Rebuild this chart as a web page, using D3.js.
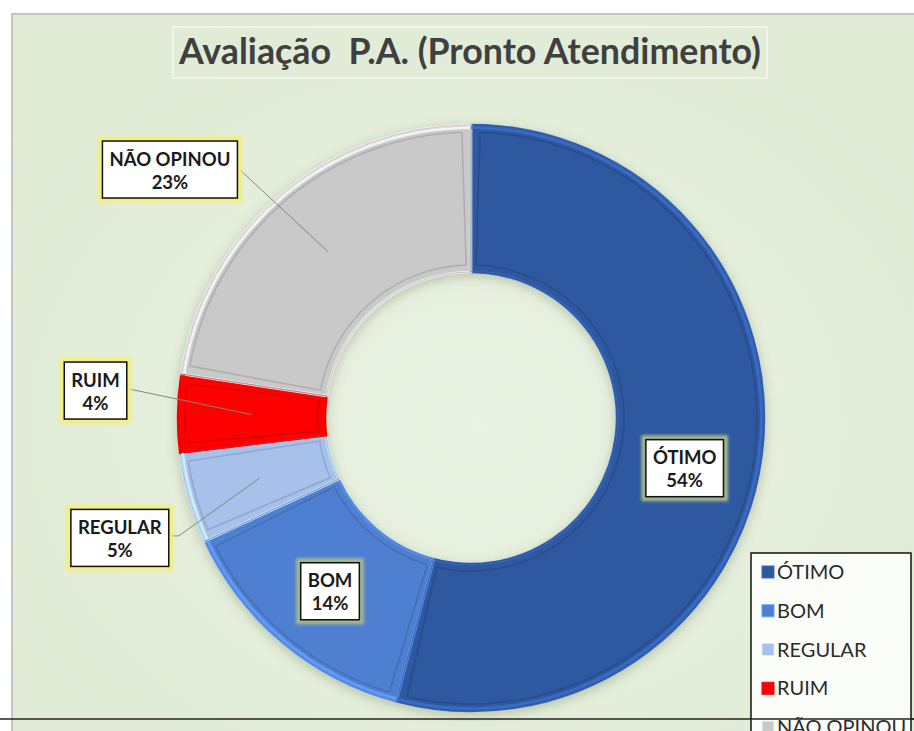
<!DOCTYPE html>
<meta charset="utf-8">
<style>
body { margin: 0; background: #fff; font-family: Lato, "Open Sans", sans-serif; }
svg { display: block; }
.title { font-weight: bold; fill: #404040; white-space: pre; }
.lbl { font-weight: bold; fill: #1a1a1a; font-size: 18.5px; }
.leg { fill: #2b2b2b; font-size: 20px; }
</style>
<body>
<script src="https://d3js.org/d3.v7.min.js"></script>
<script>

// data
var categories = ["ÓTIMO", "BOM", "REGULAR", "RUIM", "NÃO OPINOU"];
var values = [54.1, 14.0, 5.0, 4.3, 22.6];
var colors = ["#2f58a0", "#4f7fd0", "#a7c1ea", "#ff0000", "#c9c9c9"];
var titleText = "Avaliação  P.A. (Pronto Atendimento)";

// label placement: offset of the box from slice centroid (0,0 = on the slice)
var labelOffsets = [[-4, 22], [0, 5], [-140, 60], [-156, -24], [-158, -82]];
var outside = [false, false, true, true, true];

var W = 914, H = 731,
    cx = 471, cy = 418,
    outerR = 293, innerR = 146;

var svg = d3.select("body").append("svg")
    .attr("width", W)
    .attr("height", H);

var defs = svg.append("defs");
var shadow = defs.append("filter").attr("id", "shadow")
    .attr("x", "-20%").attr("y", "-20%").attr("width", "140%").attr("height", "140%");
shadow.append("feDropShadow")
    .attr("dx", 0).attr("dy", 3).attr("stdDeviation", 6)
    .attr("flood-color", "#5a6a40").attr("flood-opacity", 0.35);

var glow = defs.append("filter").attr("id", "glow")
    .attr("x", "-30%").attr("y", "-30%").attr("width", "160%").attr("height", "160%");
glow.append("feGaussianBlur").attr("stdDeviation", 1.5);

var bg = defs.append("radialGradient").attr("id", "bg")
    .attr("cx", "50%").attr("cy", "55%").attr("r", "65%");
bg.append("stop").attr("offset", "0%").attr("stop-color", "#eaf2e3");
bg.append("stop").attr("offset", "100%").attr("stop-color", "#dfebd5");

// panel
svg.append("rect")
    .attr("x", 12).attr("y", 14)
    .attr("width", W + 20).attr("height", H + 20)
    .attr("fill", "url(#bg)")
    .attr("stroke", "#c4c4c4")
    .attr("stroke-width", 2);

// title
var title = svg.append("text")
    .attr("class", "title")
    .attr("x", 179).attr("y", 64)
    .style("font-size", "30px")
    .text(titleText);
var tw = title.node().getComputedTextLength();
title.style("font-size", (30 * 582 / tw) + "px");
svg.append("rect")
    .attr("x", 173).attr("y", 27)
    .attr("width", 594).attr("height", 51)
    .attr("fill", "none")
    .attr("stroke", "#f6faf2")
    .attr("stroke-width", 1.5);

var data = categories.map(function(c, i) {
  return {name: c, value: values[i], color: colors[i], off: labelOffsets[i], outside: outside[i]};
});
var total = d3.sum(values);

var pie = d3.pie()
    .sort(null)
    .value(function(d) { return d.value; });

var arc = d3.arc()
    .innerRadius(innerR)
    .outerRadius(outerR);

var inset = 7;
var midR = (innerR + outerR) / 2;
var innerArc = d3.arc()
    .innerRadius(innerR + inset)
    .outerRadius(outerR - inset)
    .startAngle(function(d) { return d.startAngle + inset / midR; })
    .endAngle(function(d) { return d.endAngle - inset / midR; });

var arcs = pie(data);

var g = svg.append("g")
    .attr("transform", "translate(" + cx + "," + cy + ")");

var ring = g.append("g").attr("filter", "url(#shadow)");

ring.selectAll(".slice")
    .data(arcs)
  .enter().append("path")
    .attr("class", "slice")
    .attr("d", arc)
    .attr("fill", function(d) { return d.data.color; })
    .attr("stroke", function(d) { return d3.color(d.data.color).brighter(0.5); })
    .attr("stroke-width", 2.5);

// bevel: highlight rim and darker inner edge
g.selectAll(".bevel")
    .data(arcs)
  .enter().append("path")
    .attr("class", "bevel")
    .attr("d", innerArc)
    .attr("fill", "none")
    .attr("stroke", function(d) { return d3.color(d.data.color).darker(0.7); })
    .attr("stroke-opacity", 0.6)
    .attr("stroke-width", 1.5);

g.selectAll(".rim")
    .data(arcs)
  .enter().append("path")
    .attr("class", "rim")
    .attr("d", d3.arc().innerRadius(outerR - 4).outerRadius(outerR - 1.5))
    .attr("fill", function(d) { return d3.color(d.data.color).brighter(0.7); })
    .attr("opacity", 0.8);

g.selectAll(".edge")
    .data(arcs)
  .enter().append("path")
    .attr("class", "edge")
    .attr("d", arc)
    .attr("fill", "none")
    .attr("stroke", function(d) { return d3.color(d.data.color).darker(0.8); })
    .attr("stroke-opacity", 0.5)
    .attr("stroke-width", 1);

// labels
var labels = g.selectAll(".label")
    .data(arcs)
  .enter().append("g")
    .attr("class", "label");

labels.each(function(d) {
  var c = arc.centroid(d);
  var lx = c[0] + d.data.off[0], ly = c[1] + d.data.off[1];
  var el = d3.select(this);
  var pct = Math.round(d.data.value / total * 100) + "%";

  var t = el.append("text").attr("class", "lbl").attr("text-anchor", "middle");
  t.append("tspan").attr("x", lx).attr("y", ly - 4).text(d.data.name);
  t.append("tspan").attr("x", lx).attr("y", ly + 19).text(pct);
  var bb = t.node().getBBox();
  var bw = bb.width + 14, bh = 57;
  var bx = lx - bw / 2, by = ly - bh / 2;

  if (d.data.outside) {
    var sx = bx + bw, sy = ly - 2;
    var pts = [[sx, sy]];
    if (d.data.off[1] > 20) pts.push([sx + 10, sy]);
    pts.push(c);
    el.insert("path", "text")
      .attr("d", d3.line()(pts))
      .attr("fill", "none")
      .attr("stroke", "#7d8b78")
      .attr("stroke-width", 1);
  }

  el.insert("rect", "text")
    .attr("x", bx - 2).attr("y", by - 2)
    .attr("width", bw + 4).attr("height", bh + 4)
    .attr("fill", "none")
    .attr("stroke", d.data.outside ? "#f3ef7a" : "#a9b98c")
    .attr("stroke-width", 5)
    .attr("filter", "url(#glow)");
  el.insert("rect", "text")
    .attr("x", bx).attr("y", by)
    .attr("width", bw).attr("height", bh)
    .attr("fill", "#fff")
    .attr("stroke", "#111")
    .attr("stroke-width", 1.5);
});

// bottom rule
svg.append("line")
    .attr("x1", 0).attr("x2", W)
    .attr("y1", 719).attr("y2", 719)
    .attr("stroke", "#222")
    .attr("stroke-width", 1.5);

// legend
var legend = svg.append("g");
legend.append("rect")
    .attr("x", 751).attr("y", 553)
    .attr("width", 160).attr("height", 200)
    .attr("fill", "#fbfdf9")
    .attr("stroke", "#111")
    .attr("stroke-width", 1.5);

var legendY = d3.scalePoint()
    .domain(categories)
    .range([572, 727]);

var items = legend.selectAll(".item")
    .data(data)
  .enter().append("g")
    .attr("class", "item")
    .attr("transform", function(d) { return "translate(0," + legendY(d.name) + ")"; });

items.append("rect")
    .attr("x", 762).attr("y", -6)
    .attr("width", 12).attr("height", 12)
    .attr("fill", function(d) { return d.color; })
    .attr("stroke", function(d) { return d3.color(d.color).brighter(0.6); })
    .attr("stroke-width", 1);

items.append("text")
    .attr("class", "leg")
    .attr("x", 777)
    .attr("dy", "0.36em")
    .text(function(d) { return d.name; });

legend.append("line")
    .attr("x1", 751).attr("x2", W)
    .attr("y1", 719).attr("y2", 719)
    .attr("stroke", "#222")
    .attr("stroke-width", 1.5);

</script>
